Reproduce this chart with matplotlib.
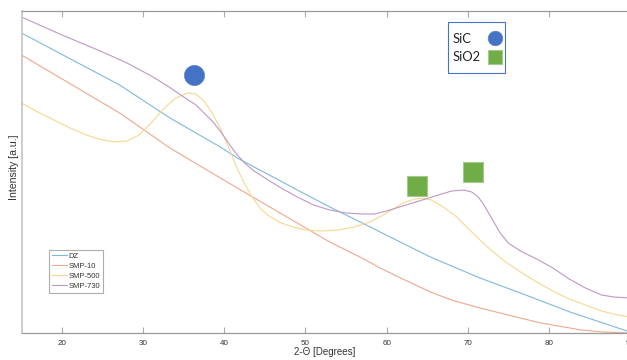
import matplotlib
matplotlib.use('Agg')
import matplotlib.pyplot as plt
from matplotlib.lines import Line2D
from matplotlib.patches import Rectangle

# 2-theta positions (degrees) and intensity (a.u.)
dz_x = [15, 27.1, 33.3, 39.5, 41.6, 49.7, 53.0, 58.0, 59.2, 65.4, 71.5, 76.5, 82.6, 90]
dz_y = [300, 248, 215, 186, 175, 140, 126, 106, 101, 76, 55, 40, 21, 1]

smp10_x = [15, 27.1, 33.3, 39.5, 45.6, 53.0, 57.2, 59.2, 62, 65.4, 68, 71.5, 74,
           76.5, 79, 82.6, 84, 86.7, 90]
smp10_y = [278, 220, 185, 155, 126, 91, 74, 65, 54, 41, 33, 25, 20,
           15, 10, 5, 3, 1, 0]

smp500_x = [15, 17, 19, 21, 23, 25, 26.5, 28, 29.5, 31, 32.5, 34, 35.5, 36.5, 37.5,
            38.5, 39.5, 40.5, 41.5, 42.5, 43.5, 44.5, 45.5, 47, 48.5, 50, 52, 54, 56,
            58, 60, 62, 63.5, 64.5, 65.5, 67, 68.5, 70, 71.5, 73, 74.5, 76.5, 78.5,
            80.5, 82.5, 84.5, 86.5, 88, 90]
smp500_y = [230, 221, 213, 205, 198, 193, 191, 192, 198, 210, 224, 235, 240, 239, 232,
            220, 205, 186, 166, 149, 135, 124, 117, 110, 106, 103, 102, 103, 106,
            111, 120, 130, 134, 135, 133, 126, 117, 105, 93, 82, 72, 61, 51,
            42, 34, 28, 22, 19, 16]

smp730_x = [15, 20, 25, 28, 31, 33, 35, 36.5, 37.5, 38.5, 39.5, 40.5, 41.5, 42.5, 43.5,
            45, 47, 49, 51, 53, 55, 57, 58.5, 60, 62, 64, 66, 68, 69.5, 70.5, 71.3,
            72, 73, 74, 75, 76.5, 78.5, 80.5, 82.5, 84.5, 86.5, 88, 90]
smp730_y = [316, 298, 281, 270, 257, 247, 236, 228, 220, 212, 202, 190, 179, 170, 163,
            155, 145, 136, 128, 123, 120, 119, 119, 122, 127, 132, 137, 142, 143, 141, 136,
            128, 114, 100, 90, 82, 74, 65, 54, 45, 38, 36, 35]

# peak markers
sic_x = [36.3]
sic_y = [258]
sio2_x = [63.8, 70.6]
sio2_y = [147, 161]

x_ticks = [20, 30, 40, 50, 60, 70, 80, 90]

W, H = 627, 360
fig = plt.figure(figsize=(W / 100, H / 100), dpi=100)
ax = fig.add_axes([21.5 / W, 27 / H, (630 - 21.5) / W, 322 / H])

ax.plot(dz_x, dz_y, color='#7fb8de', lw=0.8, label='DZ')
ax.plot(smp10_x, smp10_y, color='#eca98c', lw=0.8, label='SMP-10')
ax.plot(smp500_x, smp500_y, color='#f6d88f', lw=0.8, label='SMP-500')
ax.plot(smp730_x, smp730_y, color='#be97c6', lw=0.8, label='SMP-730')

ax.plot(sic_x, sic_y, 'o', ms=14.5, color='#4472c4', mec='#5a82c8', mew=0.5, zorder=5)
ax.plot(sio2_x, sio2_y, 's', ms=14.5, color='#70ad47', mec='#a5c98c', mew=0.8, zorder=5)

ax.set_xlim(15, 90)
ax.set_ylim(0, 322)
ax.set_xticks(x_ticks)
ax.set_yticks([])
ax.tick_params(axis='x', direction='in', length=4.5, width=0.8, color='#aaaaaa',
               labelsize=5.8, labelcolor='#333333', pad=5, top=True)
for s in ['bottom', 'top']:
    ax.spines[s].set_color('#999999')
    ax.spines[s].set_linewidth(0.9)
ax.spines['left'].set_color('#c8c8c8')
ax.spines['left'].set_linewidth(1.3)
ax.spines['right'].set_visible(False)

for lab in ax.get_xticklabels():
    lab.set_fontfamily('Liberation Sans')

fig.text(325 / W, 1 - 352 / H, '2-\u0398 [Degrees]', ha='center', va='center',
         fontsize=7, family='Liberation Sans', color='#333333')
fig.text(14 / W, 1 - 167 / H, 'Intensity [a.u.]', ha='center', va='center',
         rotation=90, fontsize=7.6, family='Liberation Sans', color='#333333')

leg = ax.legend(loc='upper left', bbox_to_anchor=(49 / W, 1 - 250 / H),
                bbox_transform=fig.transFigure, borderaxespad=0, fancybox=False,
                prop={'family': 'Liberation Sans', 'size': 5.5}, handlelength=2.0,
                handletextpad=0.2, labelspacing=0.35, borderpad=0.35)
leg.get_frame().set_edgecolor('#999999')
leg.get_frame().set_linewidth(0.8)
for t in leg.get_texts():
    t.set_color('#333333')

# peak legend box drawn by hand so the labels stay left aligned
fig.patches.append(Rectangle((448 / W, 1 - 73 / H), 57 / W, 51 / H, transform=fig.transFigure,
                             facecolor='white', edgecolor='#4472c4', lw=0.8, zorder=6))
fig.text(453 / W, 1 - 39 / H, 'SiC', ha='left', va='center', fontsize=9.3,
         family='Lato', color='#222222', zorder=7)
fig.text(453 / W, 1 - 57 / H, 'SiO2', ha='left', va='center', fontsize=9.3,
         family='Lato', color='#222222', zorder=7)
fig.lines.append(Line2D([495 / W], [1 - 38 / H], transform=fig.transFigure, ls='none',
                        marker='o', ms=10.5, color='#4472c4', mec='#5a82c8', mew=0.5, zorder=7))
fig.lines.append(Line2D([495 / W], [1 - 57 / H], transform=fig.transFigure, ls='none',
                        marker='s', ms=10, color='#70ad47', mec='#a5c98c', mew=0.8, zorder=7))

fig.savefig('out.png', dpi=100)
